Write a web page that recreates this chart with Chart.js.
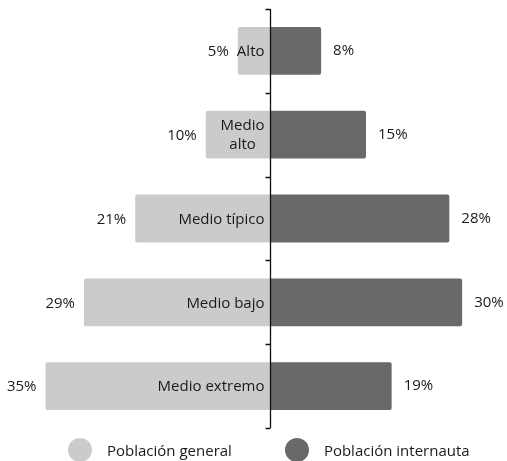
<!DOCTYPE html>
<html>
<head>
<meta charset="utf-8">
<script src="https://cdn.jsdelivr.net/npm/chart.js@4"></script>
<style>
  html, body { margin: 0; padding: 0; background: #fff; }
  #wrap { position: relative; width: 507px; height: 461px; }
  #legend { position: absolute; left: 68px; top: 438px; display: flex; align-items: center; gap: 53px;
            font-family: "Open Sans", sans-serif; font-size: 15px; color: #1a1a1a; }
  .item { display: flex; align-items: center; }
  .dot { width: 24px; height: 24px; border-radius: 50%; margin-right: 15px; }
</style>
</head>
<body>
<div id="wrap">
  <canvas id="c" width="507" height="461"></canvas>
  <div id="legend"></div>
</div>
<script>
const categories = [["Alto"], ["Medio", "alto"], ["Medio típico"], ["Medio bajo"], ["Medio extremo"]];
const seriesNames = ["Población general", "Población internauta"];
const generalValues = [5, 10, 21, 29, 35];
const internautaValues = [8, 15, 28, 30, 19];
const colors = ["#cbcbcb", "#696969"];
const FONT = '"Open Sans", sans-serif';

const overlay = {
  id: 'overlay',
  afterDatasetsDraw(chart) {
    const ctx = chart.ctx;
    const xs = chart.scales.x, ys = chart.scales.y;
    const area = chart.chartArea;
    const x0 = Math.round(xs.getPixelForValue(0)) + 0.5;
    ctx.save();
    // center axis line
    ctx.strokeStyle = '#111';
    ctx.lineWidth = 1.3;
    ctx.beginPath();
    ctx.moveTo(x0, area.top);
    ctx.lineTo(x0, area.bottom);
    for (let i = 0; i <= categories.length; i++) {
      const y = Math.round(ys.getPixelForValue(i - 0.5)) + 0.5;
      ctx.moveTo(x0 - 5, y);
      ctx.lineTo(x0, y);
    }
    ctx.stroke();

    ctx.font = '15px ' + FONT;
    ctx.fillStyle = '#1a1a1a';
    ctx.textBaseline = 'middle';
    // value labels
    chart.getDatasetMeta(0).data.forEach((bar, i) => {
      ctx.textAlign = 'right';
      ctx.fillText(generalValues[i] + '%', bar.x - 9, bar.y + 1);
    });
    chart.getDatasetMeta(1).data.forEach((bar, i) => {
      ctx.textAlign = 'left';
      ctx.fillText(internautaValues[i] + '%', bar.x + 12, bar.y);
    });
    // category labels inside left bars
    chart.getDatasetMeta(0).data.forEach((bar, i) => {
      const lines = categories[i];
      const w = Math.max(...lines.map(l => ctx.measureText(l).width));
      const cx = x0 - 6 - w / 2;
      const lh = 19;
      ctx.textAlign = 'center';
      lines.forEach((l, k) => {
        ctx.fillText(l, cx, bar.y + 1 + (k - (lines.length - 1) / 2) * lh);
      });
    });
    ctx.restore();
  }
};

const chart = new Chart(document.getElementById('c'), {
  type: 'bar',
  data: {
    labels: categories.map(c => c.join(' ')),
    datasets: [
      { label: seriesNames[0], data: generalValues.map(v => -v), backgroundColor: colors[0],
        borderRadius: 2, barPercentage: 0.57, categoryPercentage: 1 },
      { label: seriesNames[1], data: internautaValues, backgroundColor: colors[1],
        borderRadius: 2, barPercentage: 0.57, categoryPercentage: 1 }
    ]
  },
  options: {
    indexAxis: 'y',
    responsive: false,
    animation: false,
    layout: { padding: { top: 9, bottom: 33, left: 0, right: 0 } },
    scales: {
      x: { display: false, stacked: true, min: -42.1, max: 37 },
      y: { display: false, stacked: true }
    },
    plugins: { legend: { display: false }, tooltip: { enabled: false } }
  },
  plugins: [overlay]
});

const legend = document.getElementById('legend');
chart.data.datasets.forEach(ds => {
  const item = document.createElement('div');
  item.className = 'item';
  const dot = document.createElement('span');
  dot.className = 'dot';
  dot.style.background = ds.backgroundColor;
  const txt = document.createElement('span');
  txt.textContent = ds.label;
  item.appendChild(dot);
  item.appendChild(txt);
  legend.appendChild(item);
});
</script>
</body>
</html>
